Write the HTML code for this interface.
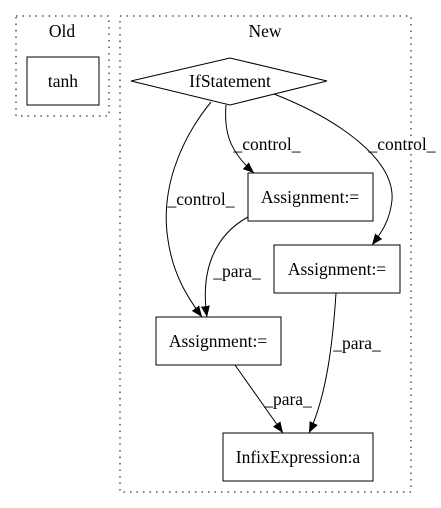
<!DOCTYPE html>
<html><head><style>body{margin:0;background:#fff}svg{display:block}</style></head><body>
<svg width="441" height="508" viewBox="0 0 441 508" xmlns="http://www.w3.org/2000/svg" font-family="Liberation Serif, serif" font-size="17.5">
<defs><marker id="a" markerWidth="12" markerHeight="12" refX="11" refY="5.5" orient="auto" markerUnits="userSpaceOnUse"><path d="M0,1 L11,5.5 L0,10 z" fill="#000"/></marker></defs>
<rect x="16" y="16" width="93" height="100" fill="none" stroke="#000" stroke-dasharray="1.5,5"/>
<text x="62" y="37" text-anchor="middle">Old</text>
<rect x="27" y="57" width="72" height="48" fill="none" stroke="#000"/>
<text x="63" y="87" text-anchor="middle">tanh</text>
<rect x="120" y="16" width="291" height="476" fill="none" stroke="#000" stroke-dasharray="1.5,5"/>
<text x="265" y="37" text-anchor="middle">New</text>
<polygon points="131,81 230,58 327,81 230,105" fill="none" stroke="#000"/>
<text x="230" y="87" text-anchor="middle">IfStatement</text>
<rect x="248" y="173" width="125" height="48" fill="none" stroke="#000"/>
<text x="310" y="203" text-anchor="middle">Assignment:=</text>
<rect x="274" y="245" width="126" height="48" fill="none" stroke="#000"/>
<text x="337" y="275" text-anchor="middle">Assignment:=</text>
<rect x="156" y="317" width="125" height="48" fill="none" stroke="#000"/>
<text x="218" y="347" text-anchor="middle">Assignment:=</text>
<rect x="223" y="433" width="150" height="48" fill="none" stroke="#000"/>
<text x="298" y="463" text-anchor="middle">InfixExpression:a</text>
<g fill="none" stroke="#000" marker-end="url(#a)">
<path d="M226,105 C224,130 228,150 254,173"/>
<path d="M274,94 C340,120 395,160 392,200 C390,220 382,232 372,245"/>
<path d="M211,102 C180,140 160,190 168,240 C173,275 188,298 202,317"/>
<path d="M248,217 C215,235 200,270 207,317"/>
<path d="M336,293 C333,340 327,395 309,433"/>
<path d="M235,365 L283,433"/>
</g>
<g text-anchor="middle">
<text x="267" y="150">_control_</text>
<text x="402" y="150">_control_</text>
<text x="201" y="205">_control_</text>
<text x="237" y="277">_para_</text>
<text x="357" y="349">_para_</text>
<text x="288" y="405">_para_</text>
</g>
</svg>
</body></html>
